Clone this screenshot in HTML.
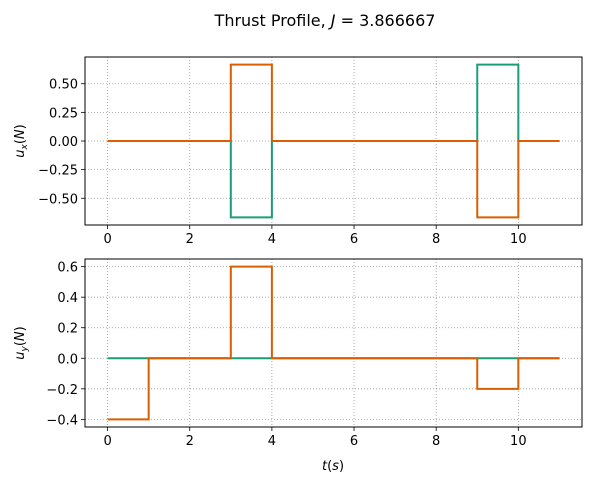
<!DOCTYPE html>
<html><head><meta charset="utf-8"><style>
body{margin:0;background:#fff}
svg{display:block;font-family:"DejaVu Sans","Liberation Sans",sans-serif}
</style></head><body>
<svg id="fig" width="590" height="482" viewBox="0 0 590 482">
<text x="325" y="26" font-size="16" text-anchor="middle" fill="#000">Thrust Profile, <tspan font-style="italic">J</tspan> = 3.866667</text>
</svg>
<script>
const tTicks=[0,2,4,6,8,10];
const tEdges=[0,1,3,4,9,10,11];
const uxGreen=[0,0,-0.6667,0,0.6667,0];
const uxOrange=[0,0,0.6667,0,-0.6667,0];
const uyGreen=[0,0,0,0,0,0];
const uyOrange=[-0.4,0,0.6,0,-0.2,0];
const uxTicks=[0.5,0.25,0,-0.25,-0.5];
const uxTickLabels=["0.50","0.25","0.00","\u22120.25","\u22120.50"];
const uyTicks=[0.6,0.4,0.2,0,-0.2,-0.4];
const uyTickLabels=["0.6","0.4","0.2","0.0","\u22120.2","\u22120.4"];
const NS="http://www.w3.org/2000/svg";
const svg=document.getElementById('fig');
function mk(tag,attrs,parent){const e=document.createElementNS(NS,tag);for(const k in attrs)e.setAttribute(k,attrs[k]);(parent||svg).appendChild(e);return e;}
function panel(name,top,bottom,ymin,ymax,yt,ytl,series,ylabelMain,ylabelSub){
  const L=85,R=582;
  const g=mk('g',{});
  
  
  const xs=t=>L+(t+0.55)/(12.1)*(R-L);
  const ys=v=>top+(ymax-v)/(ymax-ymin)*(bottom-top);
  tTicks.forEach(t=>{
    const l=mk('line',{x1:xs(t),x2:xs(t),y1:top,y2:bottom,stroke:'#999','stroke-width':0.8,'stroke-dasharray':'1,2'},g);
    
    
    mk('line',{x1:xs(t),x2:xs(t),y1:bottom,y2:bottom+4,stroke:'#000','stroke-width':0.8},g);
    const tx=mk('text',{x:xs(t),y:bottom+18,'font-size':13,'text-anchor':'middle'},g);
    tx.textContent=t;
    
    
  });
  yt.forEach((v,i)=>{
    const l=mk('line',{x1:L,x2:R,y1:ys(v),y2:ys(v),stroke:'#999','stroke-width':0.8,'stroke-dasharray':'1,2'},g);
    
    
    mk('line',{x1:L-4,x2:L,y1:ys(v),y2:ys(v),stroke:'#000','stroke-width':0.8},g);
    const tx=mk('text',{x:L-7,y:ys(v)+5,'font-size':13,'text-anchor':'end'},g);
    tx.textContent=ytl[i];
    
    
  });
  series.forEach(s=>{
    let d='';
    s.vals.forEach((v,i)=>{
      d+=(i===0?'M':'L')+xs(tEdges[i])+','+ys(v)+'L'+xs(tEdges[i+1])+','+ys(v);
    });
    const p=mk('path',{d:d,fill:'none',stroke:s.color,'stroke-width':2},g);
    
    
  });
  const fr=mk('rect',{x:L,y:top,width:R-L,height:bottom-top,fill:'none',stroke:'#000','stroke-width':1},g);
  
  
  const cy=(top+bottom)/2;
  const yl=mk('text',{x:0,y:0,'font-size':13,'text-anchor':'middle',transform:`translate(24,${cy}) rotate(-90)`},g);
  yl.innerHTML=`<tspan font-style="italic">u</tspan><tspan font-style="italic" font-size="9" dy="3">${ylabelSub}</tspan><tspan dy="-3">(</tspan><tspan font-style="italic">N</tspan>)`;
  
  
}
panel('ux-panel',57,225,-0.7333,0.7333,uxTicks,uxTickLabels,[
  {name:'ux-series-1',color:'#1b9e77',vals:uxGreen},
  {name:'ux-series-2',color:'#d95f02',vals:uxOrange}],'u','x');
panel('uy-panel',259,427,-0.45,0.65,uyTicks,uyTickLabels,[
  {name:'uy-series-1',color:'#1b9e77',vals:uyGreen},
  {name:'uy-series-2',color:'#d95f02',vals:uyOrange}],'u','y');
const xl=mk('text',{x:333,y:470,'font-size':13,'text-anchor':'middle'});
xl.innerHTML='<tspan font-style="italic">t</tspan>(<tspan font-style="italic">s</tspan>)';


</script>
</body></html>
